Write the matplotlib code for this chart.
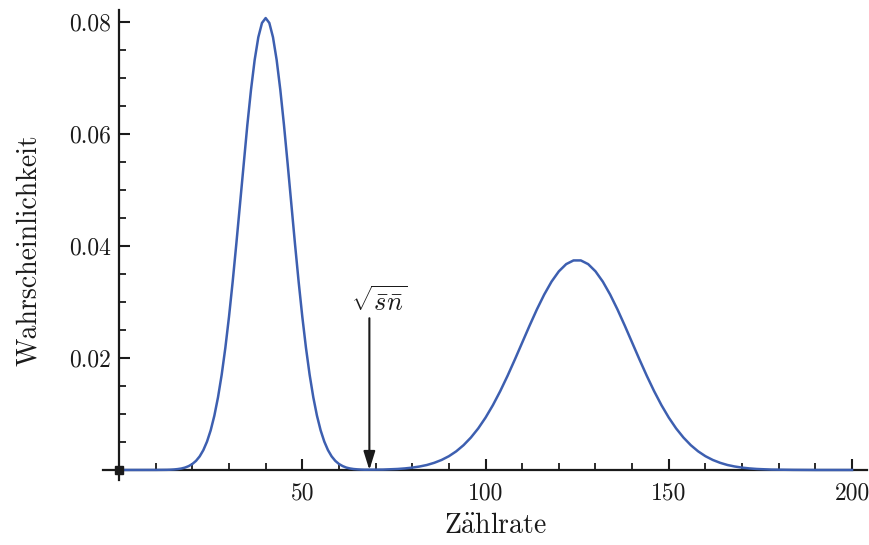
import numpy as np
import matplotlib
matplotlib.use('Agg')
import matplotlib.pyplot as plt
from matplotlib.ticker import FixedLocator

plt.rcParams['font.family'] = ['cmr10', 'DejaVu Serif']
plt.rcParams['mathtext.fontset'] = 'cm'
plt.rcParams['axes.formatter.use_mathtext'] = True

# counting rate samples (finer around the narrow first peak)
zaehlrate = np.concatenate([np.arange(0, 13, 2), np.arange(13, 68, 1), np.arange(68, 201, 2)])
# probability
wahrscheinlichkeit = [
    # 0 .. 12 (step 2)
    0.0, 0.0, 0.0, 0.0, 0.0, 0.00001, 0.00002,
    # 13 .. 67 (step 1)
    0.00003, 0.00005, 0.00009, 0.00016, 0.00026, 0.00043, 0.00069, 0.00107, 0.00163, 0.00243,
    0.00355, 0.00507, 0.00708, 0.00969, 0.01298, 0.01700, 0.02181, 0.02737, 0.03361, 0.04040,
    0.04751, 0.05468, 0.06159, 0.06788, 0.07322, 0.07728, 0.07983, 0.08070, 0.07983, 0.07728,
    0.07322, 0.06788, 0.06159, 0.05468, 0.04751, 0.04040, 0.03361, 0.02737, 0.02181, 0.01700,
    0.01298, 0.00969, 0.00708, 0.00507, 0.00355, 0.00243, 0.00163, 0.00107, 0.00070, 0.00043,
    0.00027, 0.00017, 0.00011, 0.00007, 0.00005,
    # 68 .. 200 (step 2)
    0.00005, 0.00006, 0.00007, 0.00012, 0.00018, 0.00028,
    0.00042, 0.00062, 0.00089, 0.00128, 0.00179, 0.00246, 0.00333, 0.00443, 0.00579, 0.00742,
    0.00935, 0.01157, 0.01407, 0.01681, 0.01973, 0.02274, 0.02576, 0.02866, 0.03132, 0.03363,
    0.03547, 0.03676, 0.03742, 0.03742, 0.03676, 0.03547, 0.03363, 0.03132, 0.02866, 0.02576,
    0.02274, 0.01973, 0.01681, 0.01407, 0.01157, 0.00935, 0.00742, 0.00579, 0.00443, 0.00333,
    0.00246, 0.00179, 0.00128, 0.00089, 0.00062, 0.00042, 0.00028, 0.00018, 0.00012, 0.00007,
    0.00005, 0.00003, 0.00002, 0.00001, 0.00001, 0.0, 0.0, 0.0, 0.0, 0.0,
    0.0,
]

sqrt_sn = 68.3          # position of the sqrt(s n) marker
arrow_top = 0.0271

x_major = [50, 100, 150, 200]
x_labels = ['50', '100', '150', '200']
x_minor = [10, 20, 30, 40, 60, 70, 80, 90, 110, 120, 130, 140, 160, 170, 180, 190]
y_major = [0.02, 0.04, 0.06, 0.08]
y_labels = ['0.02', '0.04', '0.06', '0.08']
y_minor = [0.005, 0.01, 0.015, 0.025, 0.03, 0.035, 0.045, 0.05, 0.055, 0.065, 0.07, 0.075]

ink = '#1a1a1a'
blue = '#3d5fb0'

fig = plt.figure(figsize=(8.7, 5.45), dpi=100)
ax = fig.add_axes([103.3 / 870, 65 / 545, 763.4 / 870, 470 / 545])

ax.plot(zaehlrate, wahrscheinlichkeit, color=blue, lw=1.8, zorder=3, clip_on=False,
        solid_joinstyle='round')

ax.set_xlim(-4.3, 204)
ax.set_ylim(-0.00179, 0.08214)

for side in ['top', 'right']:
    ax.spines[side].set_visible(False)
for side in ['left', 'bottom']:
    ax.spines[side].set_position(('data', 0))
    ax.spines[side].set_linewidth(1.6)
    ax.spines[side].set_color(ink)

ax.xaxis.set_major_locator(FixedLocator(x_major))
ax.xaxis.set_minor_locator(FixedLocator(x_minor))
ax.set_xticklabels(x_labels)
ax.yaxis.set_major_locator(FixedLocator(y_major))
ax.yaxis.set_minor_locator(FixedLocator(y_minor))
ax.set_yticklabels(y_labels)

ax.tick_params(which='major', direction='in', length=8, width=1.5, color=ink,
               labelsize=17, labelcolor=ink)
ax.tick_params(which='minor', direction='in', length=5, width=1.3, color=ink)
ax.tick_params(axis='x', pad=9)
ax.tick_params(axis='y', pad=6)

ax.plot(0, 0, 's', ms=6, color=ink, zorder=4, clip_on=False)

ax.annotate('', xy=(sqrt_sn, 0), xytext=(sqrt_sn, arrow_top),
            arrowprops=dict(arrowstyle='-|>,head_length=0.8,head_width=0.25',
                            color=ink, lw=1.5, shrinkA=0, shrinkB=0, mutation_scale=14))
ax.text(71.1, 0.0300, r'$\sqrt{\bar{s}\bar{n}}$', ha='center', va='center',
        fontsize=19, color=ink)

ax.set_xlabel(r'$\mathrm{Z\ddot{a}hlrate}$', fontsize=20, color=ink)
ax.xaxis.set_label_coords(0.514, -0.07)
ax.set_ylabel('Wahrscheinlichkeit', fontsize=20, color=ink)
ax.yaxis.set_label_coords(-0.08, 0.489)

fig.savefig('out.png', dpi=100)
